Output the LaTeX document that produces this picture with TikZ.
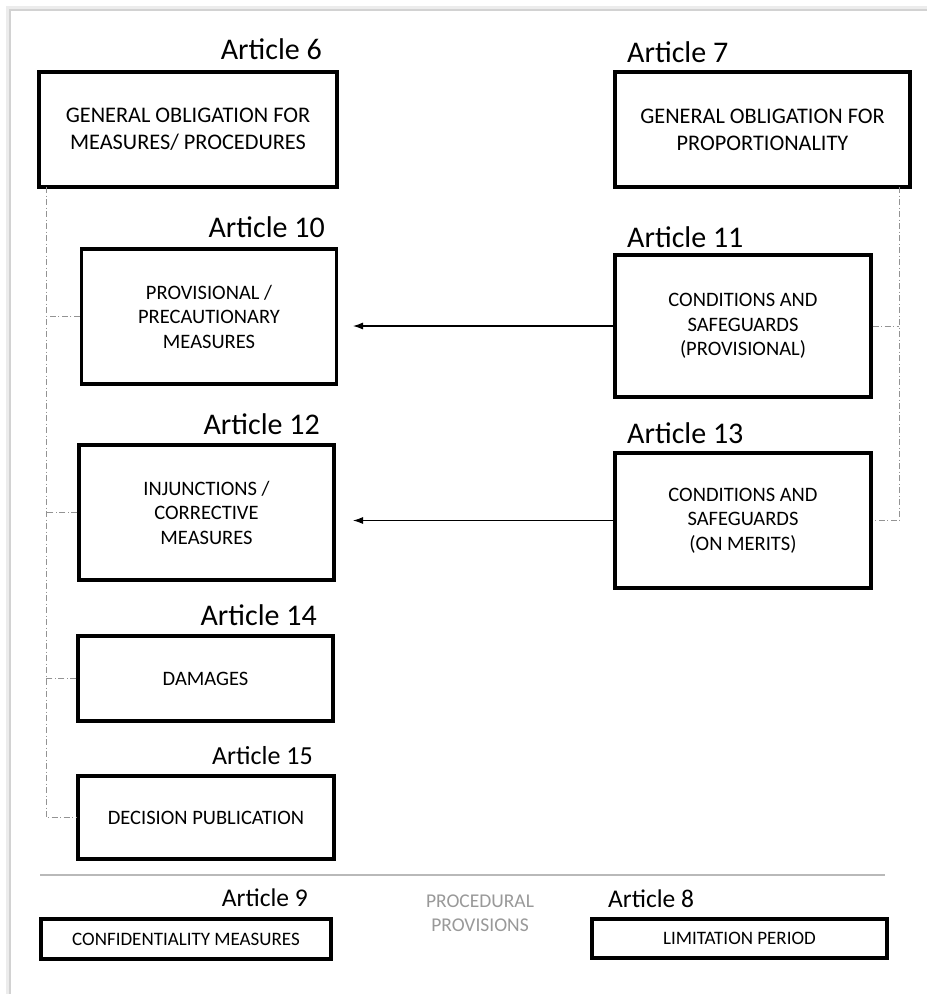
\documentclass[tikz,border=0pt]{standalone}
\usepackage{fontspec}
\setmainfont{Carlito}
\usetikzlibrary{arrows.meta}
\tikzset{
  abox/.style={draw, line width=3.1pt, inner sep=0pt, align=center, fill=white},
  arttitle/.style={inner sep=0pt, font=\fontsize{30}{36}\selectfont},
  artsmall/.style={inner sep=0pt, font=\fontsize{25.5}{30}\selectfont},
  bigtxt/.style={font=\fontsize{22.3}{27}\selectfont},
  midtxt/.style={font=\fontsize{20.5}{24.5}\selectfont},
  lowtxt/.style={font=\fontsize{19}{23}\selectfont},
  dd/.style={draw=gray!85, line width=0.9pt, dash pattern=on 6pt off 2.5pt on 1pt off 2.5pt},
  arr/.style={draw=black, line width=1.1pt, -{Latex[length=10pt,width=7pt]}},
}
\begin{document}
\begin{tikzpicture}[x=1pt,y=-1pt]
\useasboundingbox (0,0) rectangle (927,994);
\fill[white] (0,0) rectangle (927,994);
% page shadow
\draw[gray!15, line width=4pt] (8,994) -- (8,8) -- (927,8);
\draw[gray!35, line width=1.2pt] (10,994) -- (10,10) -- (927,10);

% boxes
\node[abox, bigtxt, minimum width=298pt, minimum height=115pt] (a6) at (188,129.5) {GENERAL OBLIGATION FOR\\MEASURES/ PROCEDURES};
\node[abox, bigtxt, minimum width=295pt, minimum height=115pt] (a7) at (762.5,129.5) {GENERAL OBLIGATION FOR\\PROPORTIONALITY};
\node[abox, midtxt, minimum width=255pt, minimum height=135pt] (a10) at (209,316.5) {PROVISIONAL /\\PRECAUTIONARY\\MEASURES};
\node[abox, midtxt, minimum width=256pt, minimum height=142pt] (a11) at (743,326) {CONDITIONS AND\\SAFEGUARDS\\(PROVISIONAL)};
\node[abox, midtxt, minimum width=255pt, minimum height=135pt] (a12) at (206.5,512.5) {INJUNCTIONS /\\CORRECTIVE\\MEASURES};
\node[abox, midtxt, minimum width=256pt, minimum height=135pt] (a13) at (743,520.5) {CONDITIONS AND\\SAFEGUARDS\\(ON MERITS)};
\node[abox, midtxt, minimum width=255pt, minimum height=85pt] (a14) at (205.5,678.5) {DAMAGES};
\node[abox, midtxt, minimum width=256pt, minimum height=83pt] (a15) at (206,817.5) {DECISION PUBLICATION};
\node[abox, lowtxt, minimum width=290pt, minimum height=40pt] (a9) at (186,939) {CONFIDENTIALITY MEASURES};
\node[abox, lowtxt, minimum width=295pt, minimum height=39pt] (a8) at (739.5,938.5) {LIMITATION PERIOD};

% titles
\node[arttitle, anchor=base east] (t6) at (322,59) {Article 6};
\node[arttitle, anchor=base west] (t7) at (627,62.5) {Article 7};
\node[arttitle, anchor=base east] (t10) at (325,237) {Article 10};
\node[arttitle, anchor=base west] (t11) at (627,247) {Article 11};
\node[arttitle, anchor=base east] (t12) at (320,434) {Article 12};
\node[arttitle, anchor=base west] (t13) at (627,443) {Article 13};
\node[arttitle, anchor=base east] (t14) at (317,625) {Article 14};
\node[inner sep=0pt, font=\fontsize{26}{31}\selectfont, anchor=base east] (t15) at (313,764) {Article 15};
\node[artsmall, anchor=base east] (t9) at (308,906) {Article 9};
\node[artsmall, anchor=base west] (t8) at (608,907) {Article 8};
\node[inner sep=0pt, align=center, text=gray!80, font=\fontsize{19.5}{24}\selectfont] (proc) at (480,913) {PROCEDURAL\\PROVISIONS};

% separator
\coordinate (s1) at (40,875);
\coordinate (s2) at (885,875);
\draw[gray!55, line width=1.2pt] (s1) -- (s2);

% left dash-dot tree
\coordinate (ltop) at (46,187);
\draw[dd] (ltop) |- (a15.west);
\draw[dd] (a10.west) -- (a10.west -| ltop);
\draw[dd] (a12.west) -- (a12.west -| ltop);
\draw[dd] (a14.west) -- (a14.west -| ltop);

% right dash-dot tree
\coordinate (rtop) at (899,187);
\draw[dd] (rtop) |- (a13.east);
\draw[dd] (a11.east) -- (a11.east -| rtop);

% arrows
\coordinate (p10) at (353,326);
\coordinate (p12) at (353,520.5);
\draw[arr] (a11.west) -- (p10);
\draw[arr] (a13.west) -- (p12);
\end{tikzpicture}
\end{document}
